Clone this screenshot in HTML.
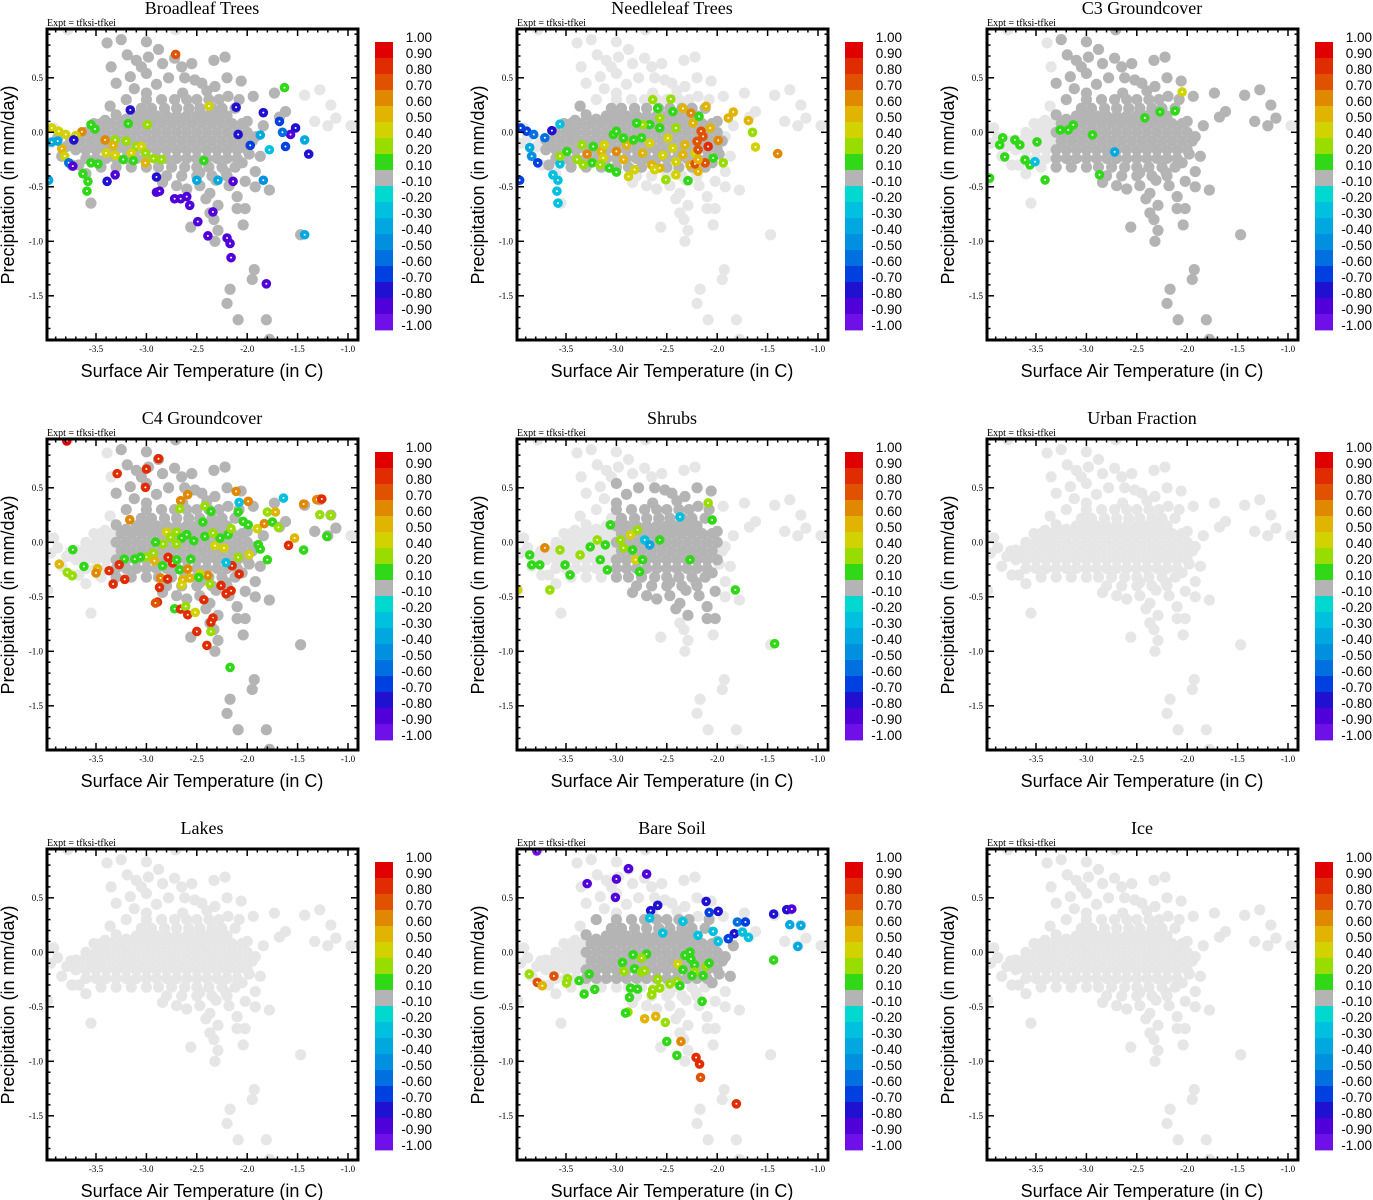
<!DOCTYPE html>
<html><head><meta charset="utf-8"><style>
html,body{margin:0;padding:0;background:#fff;}
svg{display:block;}
.ttl{font-family:"Liberation Serif",serif;font-size:18px;}
.expt{font-family:"Liberation Serif",serif;font-size:10px;}
.tk{font-family:"Liberation Serif",serif;font-size:9px;}
.ax{font-family:"Liberation Sans",sans-serif;font-size:18px;}
.cb{font-family:"Liberation Sans",sans-serif;font-size:13.5px;}
</style></head><body>
<svg id="fig" xmlns="http://www.w3.org/2000/svg" width="1373" height="1200" viewBox="0 0 1373 1200"></svg>
<script>
// ---- data ----
const panelTitles = ["Broadleaf Trees","Needleleaf Trees","C3 Groundcover","C4 Groundcover","Shrubs","Urban Fraction","Lakes","Bare Soil","Ice"];
const xTicks = [-3.5,-3.0,-2.5,-2.0,-1.5,-1.0];
const xTickLabels = ["-3.5","-3.0","-2.5","-2.0","-1.5","-1.0"];
const yTicks = [0.5,0.0,-0.5,-1.0,-1.5];
const yTickLabels = ["0.5","0.0","-0.5","-1.0","-1.5"];
const cbLabels = ["1.00","0.90","0.80","0.70","0.60","0.50","0.40","0.20","0.10","-0.10","-0.20","-0.30","-0.40","-0.50","-0.60","-0.70","-0.80","-0.90","-1.00"];
const cbBounds = [1.0,0.9,0.8,0.7,0.6,0.5,0.4,0.2,0.1,-0.1,-0.2,-0.3,-0.4,-0.5,-0.6,-0.7,-0.8,-0.9,-1.0];
const cbColors = ["#e00000","#e02c00","#e05200","#e08800","#e0b400","#d2d200","#98dc00","#30d818","#b4b4b4","#00d8d0","#00c0e0","#00a8e0","#0090e0","#0070e0","#0040e0","#2010d0","#5000d8","#7010e8"];

// base cloud (temperature, precipitation)
const baseCloud = [
[-3.1,0.15],[-3.0,0.15],[-2.9,0.15],[-2.8,0.15],[-2.7,0.15],[-2.6,0.15],[-2.5,0.15],[-2.4,0.15],[-2.3,0.15],[-2.2,0.15],
[-3.05,0.22],[-2.95,0.22],[-2.82,0.22],[-2.7,0.22],[-2.58,0.22],[-2.47,0.22],[-2.35,0.22],[-2.25,0.22],
[-3.0,0.3],[-2.85,0.3],[-2.72,0.3],[-2.6,0.3],[-2.5,0.3],[-2.38,0.3],
[-3.45,0.08],[-3.35,0.08],[-3.25,0.08],[-3.15,0.08],[-3.05,0.08],[-2.95,0.08],[-2.85,0.08],[-2.75,0.08],[-2.65,0.08],[-2.55,0.08],[-2.45,0.08],[-2.35,0.08],[-2.25,0.08],[-2.15,0.08],[-2.05,0.08],
[-3.6,0.0],[-3.5,0.0],[-3.4,0.0],[-3.3,0.0],[-3.2,0.0],[-3.1,0.0],[-3.0,0.0],[-2.9,0.0],[-2.8,0.0],[-2.7,0.0],[-2.6,0.0],[-2.5,0.0],[-2.4,0.0],[-2.3,0.0],[-2.2,0.0],[-2.1,0.0],[-2.0,0.0],
[-3.75,-0.08],[-3.65,-0.08],[-3.55,-0.08],[-3.45,-0.08],[-3.35,-0.08],[-3.25,-0.08],[-3.15,-0.08],[-3.05,-0.08],[-2.95,-0.08],[-2.85,-0.08],[-2.75,-0.08],[-2.65,-0.08],[-2.55,-0.08],[-2.45,-0.08],[-2.35,-0.08],[-2.25,-0.08],[-2.15,-0.08],[-2.05,-0.08],[-1.95,-0.08],
[-3.7,-0.16],[-3.6,-0.16],[-3.5,-0.16],[-3.4,-0.16],[-3.3,-0.16],[-3.2,-0.16],[-3.1,-0.16],[-3.0,-0.16],[-2.9,-0.16],[-2.8,-0.16],[-2.7,-0.16],[-2.6,-0.16],[-2.5,-0.16],[-2.4,-0.16],[-2.3,-0.16],[-2.2,-0.16],[-2.1,-0.16],[-2.0,-0.16],
[-3.6,-0.24],[-3.5,-0.24],[-3.4,-0.24],[-3.3,-0.24],[-3.2,-0.24],[-3.1,-0.24],[-3.0,-0.24],[-2.9,-0.24],[-2.8,-0.24],[-2.7,-0.24],[-2.6,-0.24],[-2.5,-0.24],[-2.4,-0.24],[-2.3,-0.24],[-2.2,-0.24],[-2.1,-0.24],
[-3.45,-0.32],[-3.3,-0.32],[-3.15,-0.32],[-3.0,-0.32],[-2.88,-0.32],[-2.75,-0.32],[-2.62,-0.32],[-2.5,-0.32],[-2.38,-0.32],[-2.25,-0.32],[-2.12,-0.32],
[-2.8,-0.4],[-2.65,-0.4],[-2.5,-0.4],[-2.35,-0.4],[-2.2,-0.4],
[-3.39,0.82],[-3.25,0.85],[-3.0,0.83],[-2.88,0.76],[-3.19,0.71],[-3.35,0.6],[-3.3,0.45],[-2.71,0.94],[-2.33,0.66],[-2.22,0.69],[-2.2,0.5],[-2.06,0.47],[-1.94,0.33],[-1.73,0.36],[-1.68,0.14],
[-1.43,0.34],[-1.28,0.39],[-1.17,0.25],[-1.2,0.06],[-1.12,0.13],[-0.97,0.06],[-1.33,0.1],[-1.62,0.19],[-1.84,0.06],[-1.92,-0.04],[-1.87,-0.22],[-1.92,-0.36],[-2.02,-0.45],[-1.92,-0.5],[-1.78,-0.53],
[-2.1,-0.59],[-2.02,-0.7],[-2.1,-0.7],[-2.29,-0.67],[-2.41,-0.61],[-2.33,-0.8],[-2.56,-0.87],[-2.29,-0.9],[-2.04,-0.85],[-2.32,-1.0],[-1.93,-1.26],[-1.95,-1.35],[-2.17,-1.44],[-2.2,-1.57],[-2.09,-1.72],[-1.81,-1.72],[-1.78,-1.9],
[-1.47,-0.94],[-3.55,-0.65],[-3.78,0.94],[-3.92,0.04],[-3.98,-0.44],
[-3.16,0.51],[-3.0,0.54],[-2.84,0.63],[-2.65,0.6],[-2.55,0.63],[-2.52,0.48],[-3.1,0.66],[-2.98,0.69],[-2.72,0.68],[-2.45,0.45],[-2.32,0.42],[-2.19,0.33],[-2.08,0.3],[-3.2,0.3],[-3.36,0.24],[-3.0,0.36],[-2.64,0.36],
[-2.9,0.44],[-2.78,0.5],[-2.62,0.5],[-2.4,0.38],[-2.28,0.3],[-2.12,0.22],[-3.12,0.4],[-3.05,0.6],
[-2.84,-0.46],[-2.7,-0.49],[-2.6,-0.52],[-2.47,-0.49],[-2.37,-0.56],[-2.18,-0.49],[-2.21,-0.37],[-2.47,-0.37],[-2.31,-0.44],[-2.37,-0.74],[-2.05,-0.28],[-1.98,-0.2],[-2.0,0.1],
[-3.79,-0.13],[-3.7,-0.07],[-3.84,-0.22],[-3.74,-0.3],[-3.6,-0.38],[-3.67,-0.3],[-3.48,0.0],[-3.41,0.11],[-3.52,0.08],[-3.88,-0.05],[-3.95,-0.1],[-3.3,0.16],[-3.2,0.12]
];

// dark-gray region per panel [tmin,tmax,pmin,pmax] (null = none)
const darkRegions = [
[-3.9,-1.45,-1.95,0.9],
[-3.7,-1.95,-0.35,0.25],
[-3.3,-1.0,-1.95,0.95],
[-3.3,-1.1,-1.95,0.95],
[-3.0,-2.0,-0.7,0.55],
null,
null,
[-3.3,-1.7,-0.3,0.3],
null
];

// coloured points [temperature, precipitation, correlation]
const broadleafPts = [[-2.71,0.715,0.75],[-1.63,0.41,0.15],[-2.38,0.24,0.45],[-3.16,0.205,-0.75],[-2.11,0.23,-0.7],[-1.84,0.18,-0.7],[-1.68,0.1,-0.65],[-1.52,0.04,-0.75],[-1.57,-0.02,-0.85],[-1.43,-0.07,-0.35],[-1.39,-0.2,-0.7],[-1.62,-0.13,-0.6],[-1.65,0.0,-0.55],[-2.09,-0.02,-0.75],[-1.97,-0.12,-0.6],[-1.87,-0.025,-0.3],[-1.78,-0.16,-0.25],[-1.84,-0.44,-0.4],[-1.43,-0.94,-0.3],[-3.18,0.08,0.15],[-2.99,0.07,0.35],[-3.55,0.07,0.15],[-3.51,0.03,0.15],[-3.94,0.04,0.45],[-3.87,0.01,0.45],[-3.8,-0.02,0.5],[-3.64,0.005,0.65],[-3.7,-0.03,0.45],[-3.41,-0.07,0.65],[-3.31,-0.07,0.35],[-3.33,-0.12,0.55],[-3.2,-0.08,0.3],[-3.1,-0.13,0.3],[-3.05,-0.13,0.45],[-3.84,-0.15,0.55],[-3.81,-0.22,0.45],[-3.4,-0.19,0.5],[-3.31,-0.21,0.5],[-3.15,-0.19,0.5],[-3.01,-0.19,0.35],[-3.01,-0.28,0.55],[-2.93,-0.24,0.3],[-2.85,-0.25,0.25],[-3.23,-0.25,0.15],[-3.13,-0.26,0.15],[-3.55,-0.28,0.15],[-3.48,-0.29,0.15],[-2.43,-0.26,0.15],[-3.63,-0.38,0.2],[-3.58,-0.45,0.15],[-3.59,-0.54,0.15],[-3.97,-0.44,-0.35],[-3.94,-0.09,-0.3],[-3.88,-0.08,-0.3],[-3.72,-0.07,-0.75],[-3.77,-0.28,-0.55],[-3.73,-0.31,-0.85],[-3.39,-0.45,-0.7],[-3.31,-0.39,-0.85],[-2.9,-0.41,-0.7],[-2.9,-0.55,-0.85],[-2.87,-0.54,-0.85],[-2.72,-0.61,-0.85],[-2.66,-0.61,-0.85],[-2.57,-0.67,-0.85],[-2.6,-0.59,-0.85],[-2.49,-0.82,-0.85],[-2.39,-0.95,-0.85],[-2.34,-0.73,-0.8],[-2.2,-0.97,-0.85],[-2.17,-1.02,-0.85],[-2.16,-1.15,-0.85],[-1.81,-1.39,-0.85],[-2.14,-0.45,-0.85],[-2.5,-0.44,-0.35],[-2.29,-0.44,-0.35]];
const needleleafPts = [[-3.95,0.04,-0.6],[-3.89,0.01,-0.6],[-3.82,-0.02,-0.5],[-3.71,-0.05,-0.55],[-3.64,0.015,-0.75],[-3.86,-0.14,-0.35],[-3.84,-0.22,-0.45],[-3.78,-0.28,-0.6],[-3.96,-0.44,-0.6],[-3.56,0.075,-0.25],[-3.63,-0.39,-0.25],[-3.58,-0.44,-0.25],[-3.59,-0.54,-0.25],[-3.58,-0.65,-0.25],[-3.56,-0.29,-0.25],
[-3.56,-0.22,0.35],[-3.49,-0.175,0.15],[-3.39,-0.25,0.35],[-3.34,-0.115,0.4],[-3.29,-0.2,0.65],[-3.23,-0.13,0.15],[-3.24,-0.28,0.15],[-3.15,-0.175,0.6],[-3.12,-0.115,0.45],[-3.03,-0.02,0.15],[-3.0,0.01,0.15],[-3.0,-0.175,0.65],[-2.93,-0.25,0.6],[-2.9,-0.115,0.6],[-2.88,-0.405,0.5],[-2.83,-0.07,0.15],[-2.75,-0.05,0.15],[-2.74,-0.19,0.6],[-2.67,-0.1,0.5],[-2.65,-0.3,0.6],[-2.64,0.3,0.25],[-2.59,0.22,0.15],[-2.57,0.04,0.15],[-2.54,-0.21,0.45],[-2.51,-0.435,0.25],[-2.46,0.305,0.4],[-2.44,0.19,0.15],[-2.41,0.04,0.4],[-2.41,-0.27,0.5],[-2.34,0.22,0.55],[-2.32,-0.115,0.55],[-2.27,-0.3,0.55],[-2.26,0.177,0.7],[-2.24,0.085,0.6],[-2.22,-0.19,0.5],[-2.2,-0.083,0.75],[-2.19,-0.16,0.8],[-2.18,0.146,0.15],[-2.16,0.01,0.8],[-2.14,-0.037,0.8],[-2.12,-0.28,0.8],[-2.11,0.238,0.55],[-2.09,-0.13,0.85],[-2.07,0.04,0.6],[-2.04,-0.236,0.15],[-1.99,-0.074,0.65],[-1.94,-0.28,0.35],[-2.29,-0.444,0.15],[-2.67,0.07,0.15],[-2.74,0.07,0.4],[-2.8,0.085,0.15],[-2.57,0.131,0.35],[-2.49,-0.053,0.45],[-2.44,-0.144,0.5],[-2.34,-0.206,0.6],[-3.13,-0.236,0.5],[-3.07,-0.328,0.2],[-3.0,-0.365,0.15],[-2.82,-0.343,0.45],[-3.16,-0.297,0.35],[-2.57,-0.328,0.55],[-2.41,-0.39,0.45],[-2.19,-0.358,0.6],[-2.22,-0.29,0.75],[-1.84,0.186,0.55],[-1.89,0.131,0.55],[-1.69,0.107,0.55],[-1.65,0.0,0.4],[-1.62,-0.135,0.5],[-1.4,-0.196,0.65],[-2.62,-0.343,0.5],[-2.19,-0.25,0.55],[-2.93,-0.053,0.15],[-3.33,-0.297,0.35]];
const c3Pts = [[-2.05,0.37,0.45],[-2.12,0.196,0.15],[-2.27,0.187,0.15],[-2.42,0.132,0.15],[-3.13,0.068,0.15],[-3.18,0.022,0.15],[-2.94,-0.024,0.2],[-3.26,0.022,0.15],[-3.49,-0.088,0.15],[-3.71,-0.07,0.15],[-3.81,-0.226,0.15],[-3.66,-0.116,0.2],[-3.61,-0.253,0.2],[-3.56,-0.299,0.15],[-3.86,-0.116,0.15],[-3.51,-0.27,-0.25],[-3.41,-0.437,0.15],[-2.87,-0.39,0.15],[-2.72,-0.18,-0.3],[-3.83,-0.05,0.15],[-3.96,-0.42,0.15]];
const c4Pts = [[-3.79,0.93,0.95],[-2.88,0.767,0.85],[-3.29,0.63,0.85],[-3.0,0.672,0.85],[-3.01,0.504,0.85],[-2.59,0.437,0.65],[-2.66,0.382,0.65],[-2.67,0.308,0.35],[-3.165,0.207,0.65],[-2.42,0.333,0.35],[-2.36,0.284,0.15],[-2.44,0.186,0.15],[-2.11,0.467,0.65],[-2.08,0.366,-0.25],[-1.99,0.376,0.65],[-2.09,0.278,0.15],[-2.04,0.192,0.15],[-1.99,0.161,0.15],[-1.9,0.125,0.45],[-1.83,0.171,0.65],[-1.8,0.278,0.35],[-1.72,0.278,0.55],[-1.75,0.186,0.15],[-1.69,0.137,0.35],[-1.64,0.406,-0.25],[-1.44,0.351,0.65],[-1.31,0.391,0.7],[-1.26,0.397,0.85],[-1.28,0.253,0.35],[-1.17,0.247,0.35],[-1.21,0.054,0.15],[-1.53,0.039,0.55],[-1.59,-0.028,0.85],[-1.44,-0.071,0.15],[-1.89,-0.022,0.15],[-1.87,-0.062,0.15],[-1.8,-0.16,0.15],[-1.98,-0.114,0.45],[-2.09,-0.138,0.35],[-2.15,-0.215,0.85],[-2.08,-0.291,0.85],[-2.26,-0.396,0.85],[-2.21,-0.472,0.85],[-2.16,-0.444,0.85],[-2.37,-0.38,0.35],[-2.39,-0.304,0.65],[-2.47,-0.29,0.45],[-2.42,0.054,0.15],[-2.32,-0.031,0.45],[-2.23,-0.053,0.45],[-2.27,0.039,0.15],[-2.19,0.07,0.15],[-2.34,0.085,0.35],[-2.16,0.125,0.35],[-2.8,0.094,0.45],[-2.7,0.094,0.35],[-2.76,0.045,0.35],[-2.65,0.039,0.15],[-2.6,0.07,0.15],[-2.53,0.014,0.15],[-2.7,-0.016,0.35],[-2.835,-0.016,0.35],[-2.91,0.002,0.15],[-2.93,-0.099,0.35],[-3.0,-0.135,0.35],[-3.115,-0.154,0.15],[-3.06,-0.135,0.15],[-3.22,-0.154,0.15],[-3.27,-0.206,0.85],[-3.37,-0.261,0.85],[-3.485,-0.242,0.55],[-3.5,-0.282,0.65],[-3.62,-0.221,0.15],[-3.73,-0.068,0.15],[-3.865,-0.2,0.55],[-3.785,-0.276,0.35],[-3.735,-0.307,0.35],[-3.33,-0.383,0.85],[-3.215,-0.34,0.85],[-2.92,-0.169,0.55],[-2.785,-0.138,0.85],[-2.74,-0.19,0.85],[-2.7,-0.16,0.15],[-2.56,-0.154,0.15],[-2.84,-0.215,0.15],[-2.67,-0.252,0.15],[-2.59,-0.246,0.65],[-2.86,-0.328,0.65],[-2.79,-0.337,0.85],[-2.87,-0.414,0.85],[-2.64,-0.344,0.55],[-2.57,-0.328,0.55],[-2.65,-0.39,0.5],[-2.48,-0.322,0.15],[-2.43,-0.527,0.85],[-2.89,-0.548,0.85],[-2.91,-0.557,0.75],[-2.72,-0.61,0.15],[-2.66,-0.613,0.85],[-2.61,-0.588,0.35],[-2.59,-0.665,0.85],[-2.515,-0.643,0.45],[-2.34,-0.695,0.85],[-2.36,-0.735,0.85],[-2.36,-0.818,0.35],[-2.5,-0.818,0.85],[-2.4,-0.946,0.9],[-2.17,-1.148,0.15],[-2.21,-0.187,-0.25]];
const shrubPts = [[-2.09,0.361,0.35],[-2.05,0.205,0.15],[-2.37,0.233,-0.25],[-3.06,0.16,0.15],[-3.19,0.022,0.35],[-3.11,-0.024,0.15],[-2.96,0.022,0.35],[-2.86,0.068,0.5],[-2.79,0.114,0.35],[-2.72,0.022,-0.25],[-2.67,-0.024,-0.3],[-2.57,0.022,0.15],[-2.93,-0.051,0.35],[-2.84,-0.07,0.15],[-2.81,-0.16,0.5],[-2.74,-0.16,0.15],[-3.26,-0.042,0.15],[-3.36,-0.116,0.35],[-3.56,-0.07,0.35],[-3.71,-0.051,0.65],[-3.86,-0.116,0.15],[-3.84,-0.207,0.2],[-3.76,-0.207,0.15],[-3.51,-0.207,0.15],[-3.46,-0.299,0.2],[-3.66,-0.437,0.35],[-3.09,-0.253,0.15],[-2.77,-0.27,0.15],[-3.16,-0.16,0.15],[-1.82,-0.437,0.15],[-1.43,-0.93,0.15],[-3.98,-0.437,0.5],[-2.27,-0.16,0.2]];
const urbanPts = [];
const lakePts = [];
const bareSoilPts = [[-3.79,0.93,-0.9],[-2.88,0.767,-0.85],[-3.29,0.63,-0.85],[-3.0,0.672,-0.85],[-3.01,0.504,-0.85],[-2.7,0.718,-0.85],[-2.59,0.431,-0.7],[-2.66,0.382,-0.7],[-2.67,0.314,-0.25],[-2.11,0.467,-0.7],[-2.08,0.366,-0.6],[-1.99,0.376,-0.7],[-1.8,0.278,-0.5],[-1.72,0.278,-0.6],[-1.83,0.171,-0.7],[-1.75,0.186,-0.25],[-1.69,0.137,-0.25],[-2.04,0.192,-0.25],[-1.99,0.1,-0.25],[-1.89,0.125,-0.6],[-1.44,0.351,-0.7],[-1.31,0.391,-0.7],[-1.26,0.397,-0.8],[-1.28,0.253,-0.3],[-1.17,0.247,-0.3],[-1.2,0.054,-0.3],[-2.19,0.155,-0.25],[-2.34,0.284,-0.25],[-2.54,0.177,-0.25],[-1.44,-0.071,0.15],[-2.835,-0.022,0.15],[-2.7,-0.016,0.15],[-2.75,-0.053,0.35],[-2.94,-0.093,0.15],[-2.82,-0.151,0.15],[-2.925,-0.175,0.35],[-2.75,-0.181,0.35],[-2.72,-0.169,0.35],[-2.32,-0.028,0.15],[-2.27,0.002,0.15],[-2.26,-0.062,0.15],[-2.39,-0.108,0.45],[-2.34,-0.16,0.15],[-2.225,-0.114,0.15],[-2.225,-0.181,0.35],[-2.25,-0.215,0.15],[-2.14,-0.215,0.15],[-2.11,-0.129,0.35],[-2.08,-0.099,0.15],[-3.27,-0.2,0.15],[-3.37,-0.261,0.15],[-3.485,-0.242,0.35],[-3.495,-0.282,0.35],[-3.62,-0.218,0.75],[-3.865,-0.2,0.35],[-3.785,-0.276,0.75],[-3.735,-0.307,0.55],[-3.32,-0.383,0.15],[-3.215,-0.34,0.15],[-2.59,-0.246,0.35],[-2.64,-0.344,0.35],[-2.57,-0.328,0.35],[-2.65,-0.39,0.35],[-2.47,-0.29,0.35],[-2.4,-0.267,0.35],[-2.37,-0.307,0.15],[-2.87,-0.414,0.15],[-2.86,-0.328,0.15],[-2.79,-0.337,0.15],[-2.15,-0.45,0.15],[-2.885,-0.548,0.35],[-2.91,-0.557,0.15],[-2.72,-0.61,0.55],[-2.61,-0.588,0.55],[-2.515,-0.643,0.35],[-2.5,-0.818,0.15],[-2.36,-0.818,0.65],[-2.4,-0.946,0.15],[-2.21,-0.965,0.85],[-2.175,-1.026,0.85],[-2.165,-1.148,0.75],[-1.81,-1.39,0.9]];
const icePts = [];
const panelPoints = [broadleafPts,needleleafPts,c3Pts,c4Pts,shrubPts,urbanPts,lakePts,bareSoilPts,icePts];

// ---- drawing ----
const NS = "http://www.w3.org/2000/svg";
const svg = document.getElementById('fig');
const BOX = {l:47, r:358, t:29, b:340};
function xScale(t){ return 96 + (t + 3.5) * 100.8; }
function yScale(p){ return 132.3 - p * 109; }
function mk(tag, attrs, parent){ const e = document.createElementNS(NS, tag); for (const k in attrs) e.setAttribute(k, attrs[k]); parent.appendChild(e); return e; }
function colorFor(v){
  for (let i = 0; i < cbColors.length; i++) { if (v <= cbBounds[i] && v > cbBounds[i+1]) return cbColors[i]; }
  return v > 0 ? cbColors[0] : cbColors[cbColors.length-1];
}
function slug(s){ return s.toLowerCase().replace(/[^a-z0-9]+/g,'-'); }

panelTitles.forEach((title, k) => {
  const ox = (k % 3) * 470, oy = Math.floor(k / 3) * 410;
  const g = mk('g', {transform:`translate(${ox},${oy})`}, svg);
  
  
  const clipId = 'clip' + k;
  const cp = mk('clipPath', {id:clipId}, g);
  mk('rect', {x:BOX.l, y:BOX.t, width:BOX.r-BOX.l, height:BOX.b-BOX.t}, cp);

  const tt = mk('text', {x:202, y:14, 'text-anchor':'middle', class:'ttl'}, g);
  tt.textContent = title;
  
  
  const ex = mk('text', {x:47, y:26, class:'expt'}, g);
  ex.textContent = 'Expt = tfksi-tfkei';
  
  

  const pg = mk('g', {'clip-path':`url(#${clipId})`}, g);
  
  
  const dr = darkRegions[k];
  const light = [], dark = [];
  baseCloud.forEach(pt => {
    const isDark = dr && pt[0] >= dr[0] && pt[0] <= dr[1] && pt[1] >= dr[2] && pt[1] <= dr[3];
    (isDark ? dark : light).push(pt);
  });
  light.forEach(pt => {
    const c = mk('circle', {cx:xScale(pt[0]), cy:yScale(pt[1]), r:5.6, fill:'#e6e6e6'}, pg);
    
    
  });
  dark.forEach(pt => {
    const c = mk('circle', {cx:xScale(pt[0]), cy:yScale(pt[1]), r:5.6, fill:'#b4b4b4'}, pg);
    
    
  });
  panelPoints[k].forEach(pt => {
    const cx = xScale(pt[0]), cy = yScale(pt[1]);
    const c = mk('circle', {cx:cx, cy:cy, r:4.8, fill:colorFor(pt[2])}, pg);
    
    
    mk('circle', {cx:cx, cy:cy, r:1, fill:'#ffffff'}, pg);
  });

  // frame
  const fr = mk('rect', {x:BOX.l, y:BOX.t, width:BOX.r-BOX.l, height:BOX.b-BOX.t, fill:'none', stroke:'#000', 'stroke-width':3}, g);
  
  

  // ticks
  const tg = mk('g', {stroke:'#000', 'stroke-width':1.5}, g);
  
  
  for (let i = -39; i <= -9; i++) {
    const t = i / 10; const x = xScale(t); if (x < BOX.l + 2 || x > BOX.r - 2) continue;
    const major = xTicks.some(v => Math.abs(v - t) < 1e-6); const L = major ? 7 : 3.5;
    mk('line', {x1:x, y1:BOX.b, x2:x, y2:BOX.b-L}, tg);
    mk('line', {x1:x, y1:BOX.t, x2:x, y2:BOX.t+L}, tg);
  }
  for (let i = -19; i <= 9; i++) {
    const p = i / 10; const y = yScale(p); if (y < BOX.t + 2 || y > BOX.b - 2) continue;
    const major = yTicks.some(v => Math.abs(v - p) < 1e-6); const L = major ? 7 : 3.5;
    mk('line', {x1:BOX.l, y1:y, x2:BOX.l+L, y2:y}, tg);
    mk('line', {x1:BOX.r, y1:y, x2:BOX.r-L, y2:y}, tg);
  }
  xTicks.forEach((t, i) => {
    const tx = mk('text', {x:xScale(t), y:352, 'text-anchor':'middle', class:'tk'}, g);
    tx.textContent = xTickLabels[i];
    
    
  });
  yTicks.forEach((p, i) => {
    const ty = mk('text', {x:43, y:yScale(p)+3, 'text-anchor':'end', class:'tk'}, g);
    ty.textContent = yTickLabels[i];
    
    
  });
  const xt = mk('text', {x:202, y:377, 'text-anchor':'middle', class:'ax'}, g);
  xt.textContent = 'Surface Air Temperature (in C)';
  
  
  const yt = mk('text', {x:0, y:0, 'text-anchor':'middle', class:'ax', transform:'translate(14,185) rotate(-90)'}, g);
  yt.textContent = 'Precipitation (in mm/day)';
  
  

  // colorbar
  const cb = mk('g', {}, g);
  
  
  const cbTop = 42, cbH = 16;
  cbColors.forEach((col, i) => {
    const r = mk('rect', {x:375, y:cbTop + i*cbH, width:18, height:cbH+0.4, fill:col}, cb);
    
    
  });
  cbLabels.forEach((lab, i) => {
    const tx = mk('text', {x:432, y:42 + i*16, 'text-anchor':'end', class:'cb'}, cb);
    tx.textContent = lab;
    
    
  });
});
</script>
</body></html>
